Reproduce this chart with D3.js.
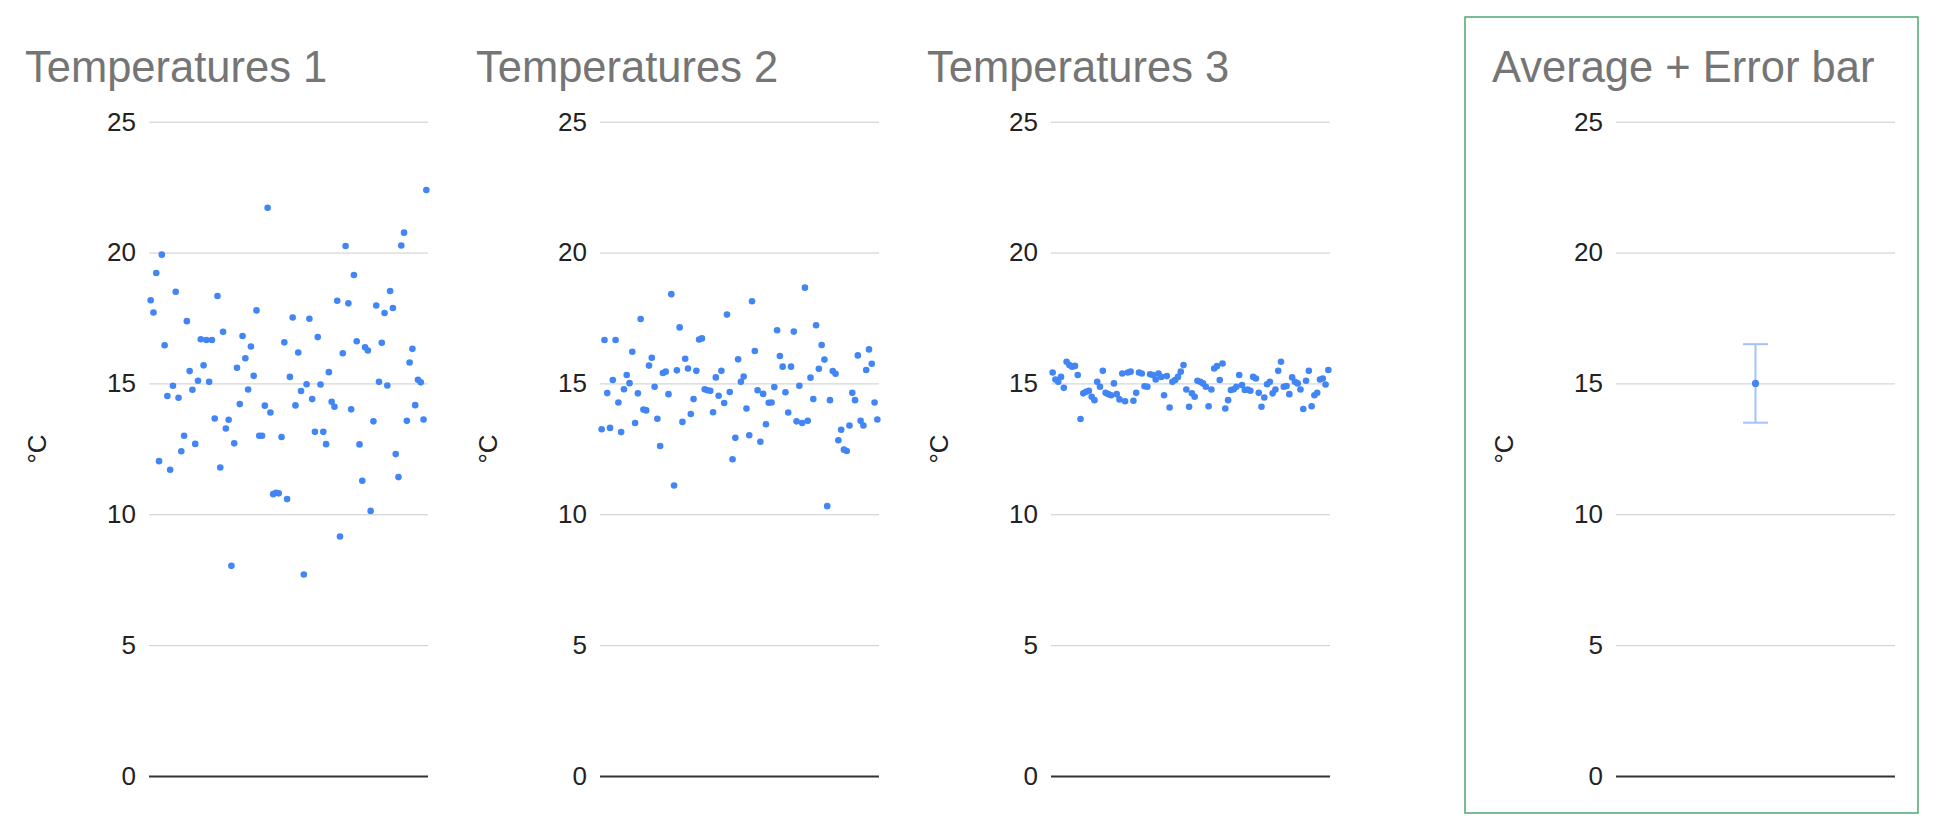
<!DOCTYPE html>
<html>
<head>
<meta charset="utf-8">
<script src="https://cdn.jsdelivr.net/npm/d3@7"></script>
<style>
  body { margin: 0; background: #fff; }
  text { font-family: "Liberation Sans", Arial, sans-serif; }
</style>
</head>
<body>
<svg id="chart" width="1938" height="834"></svg>
<script>
// values, one per sample (index 1..100)
const temps1 = [18.18, 17.71, 19.22, 12.03, 19.92, 16.46, 14.52, 11.70, 14.91, 18.50,
  14.45, 12.41, 13.00, 17.38, 15.47, 14.76, 12.69, 15.10, 16.69, 15.69,
  16.66, 15.06, 16.66, 13.66, 18.34, 11.79, 16.97, 13.28, 13.61, 8.03,
  12.71, 15.60, 14.21, 16.81, 15.96, 14.77, 16.41, 15.29, 17.79, 13.00,
  13.00, 14.15, 21.71, 13.89, 10.77, 10.82, 10.80, 12.95, 16.57, 10.58,
  15.25, 17.52, 14.16, 16.18, 14.71, 7.70, 14.97, 17.47, 14.40, 13.15,
  16.77, 14.96, 13.15, 12.68, 15.43, 14.30, 14.11, 18.16, 9.15, 16.15,
  20.25, 18.06, 14.01, 19.14, 16.61, 12.67, 11.28, 16.38, 16.26, 10.13,
  13.55, 17.98, 15.06, 16.55, 17.69, 14.92, 18.53, 17.88, 12.30, 11.42,
  20.27, 20.76, 13.57, 15.80, 16.32, 14.17, 15.14, 15.04, 13.62, 22.39];

const temps2 = [13.25, 16.66, 14.63, 13.30, 15.13, 16.66, 14.27, 13.14, 14.78, 15.32,
  15.01, 16.21, 13.49, 14.62, 17.46, 14.00, 13.97, 15.68, 15.98, 14.87,
  13.65, 12.61, 15.40, 15.45, 14.59, 18.41, 11.10, 15.50, 17.14, 13.53,
  15.94, 15.57, 13.83, 14.40, 15.48, 16.68, 16.72, 14.78, 14.74, 14.72,
  13.90, 15.23, 14.53, 15.48, 14.25, 17.63, 14.67, 12.10, 12.92, 15.92,
  15.06, 15.26, 14.04, 13.02, 18.14, 16.24, 14.74, 12.77, 14.60, 13.44,
  14.26, 14.27, 14.86, 17.03, 16.05, 15.64, 14.66, 13.89, 15.64, 16.98,
  13.55, 14.91, 13.49, 18.66, 13.57, 15.22, 14.40, 17.22, 15.56, 16.47,
  15.91, 10.31, 14.36, 15.47, 15.37, 12.83, 13.23, 12.47, 12.42, 13.39,
  14.64, 14.36, 16.07, 13.57, 13.39, 15.51, 16.30, 15.75, 14.27, 13.62];

const temps3 = [15.42, 15.15, 15.06, 15.25, 14.83, 15.83, 15.70, 15.64, 15.67, 15.32,
  13.64, 14.62, 14.68, 14.72, 14.49, 14.36, 15.06, 14.87, 15.48, 14.64,
  14.59, 14.55, 15.00, 14.59, 14.39, 15.38, 14.32, 15.42, 15.45, 14.34,
  14.64, 15.42, 15.38, 14.89, 14.87, 15.35, 15.32, 15.15, 15.38, 15.25,
  14.55, 15.28, 14.08, 15.06, 15.13, 15.25, 15.45, 15.70, 14.77, 14.11,
  14.62, 14.49, 15.10, 15.06, 15.00, 14.87, 14.13, 14.77, 15.57, 15.66,
  15.13, 15.76, 14.04, 14.36, 14.75, 14.78, 14.87, 15.32, 14.94, 14.75,
  14.77, 14.72, 15.25, 15.19, 14.64, 14.11, 14.46, 14.97, 15.06, 14.62,
  14.77, 15.48, 15.83, 14.87, 14.90, 14.59, 15.23, 15.06, 15.00, 14.77,
  14.02, 15.10, 15.48, 14.13, 14.55, 14.64, 15.15, 15.19, 14.96, 15.51];

// average panel
const avgValue = [15];
const errLow = [13.5];
const errHigh = [16.5];

const titles = ["Temperatures 1", "Temperatures 2", "Temperatures 3", "Average + Error bar"];
const yTicks = [0, 5, 10, 15, 20, 25];
const yLabel = "°C";

const svg = d3.select("#chart");
const panelX = [0, 451, 902, 1467];
const plotLeft = 149, plotRight = 428;
const y = d3.scaleLinear().domain([0, 25]).range([776, 121.7]);
const blue = "#4285f4";

// box round the last panel
svg.append("rect")
    .attr("x", 1465).attr("y", 17)
    .attr("width", 453).attr("height", 796)
    .attr("fill", "none")
    .attr("stroke", "#4ea672")
    .attr("stroke-width", 1.5);

function drawPanel(i, drawMarks) {
    let g = svg.append("g").attr("transform", `translate(${panelX[i]},0)`);

    g.append("text")
        .attr("x", 25).attr("y", 82)
        .attr("font-size", 43.5)
        .attr("fill", "#757575")
        .text(titles[i]);

    // gridlines + tick labels through a left axis
    let axis = d3.axisLeft(y).tickValues(yTicks)
        .tickSize(-(plotRight - plotLeft)).tickPadding(13);
    let ax = g.append("g")
        .attr("transform", `translate(${plotLeft},0)`)
        .call(axis);
    ax.select(".domain").remove();
    ax.selectAll(".tick line")
        .attr("stroke", d => d === 0 ? "#333" : "#ccc")
        .attr("stroke-width", d => d === 0 ? 1.8 : 1);
    ax.selectAll(".tick text")
        .attr("font-size", 26)
        .attr("fill", "#222")
        .attr("font-family", "Liberation Sans, Arial, sans-serif");

    g.append("text")
        .attr("transform", `translate(46,449) rotate(-90)`)
        .attr("text-anchor", "middle")
        .attr("font-size", 26)
        .attr("fill", "#222")
        .text(yLabel);

    drawMarks(g);
}

const series = [temps1, temps2, temps3];
series.forEach((vals, i) => {
    let x = d3.scaleLinear().domain([0.4, 100.6]).range([plotLeft, plotRight]);
    drawPanel(i, g => {
        g.selectAll("circle.pt")
            .data(vals)
            .join("circle")
            .attr("class", "pt")
            .attr("cx", (d, k) => x(k + 1))
            .attr("cy", d => y(d))
            .attr("r", 3.3)
            .attr("fill", blue);
    });
});

drawPanel(3, g => {
    let x = d3.scaleLinear().domain([0, 2]).range([plotLeft, plotRight]);
    let pts = avgValue.map((v, k) => ({v: v, lo: errLow[k], hi: errHigh[k], k: k + 1}));
    let eb = g.selectAll("g.eb").data(pts).join("g").attr("class", "eb");
    let barColor = "#a3c3fa";
    eb.append("line")
        .attr("x1", d => x(d.k)).attr("x2", d => x(d.k))
        .attr("y1", d => y(d.lo)).attr("y2", d => y(d.hi))
        .attr("stroke", barColor).attr("stroke-width", 2);
    [d => d.lo, d => d.hi].forEach(f => {
        eb.append("line")
            .attr("x1", d => x(d.k) - 12.5).attr("x2", d => x(d.k) + 12.5)
            .attr("y1", d => y(f(d))).attr("y2", d => y(f(d)))
            .attr("stroke", barColor).attr("stroke-width", 2);
    });
    eb.append("circle")
        .attr("cx", d => x(d.k))
        .attr("cy", d => y(d.v))
        .attr("r", 3.6)
        .attr("fill", blue);
});
</script>
</body>
</html>
